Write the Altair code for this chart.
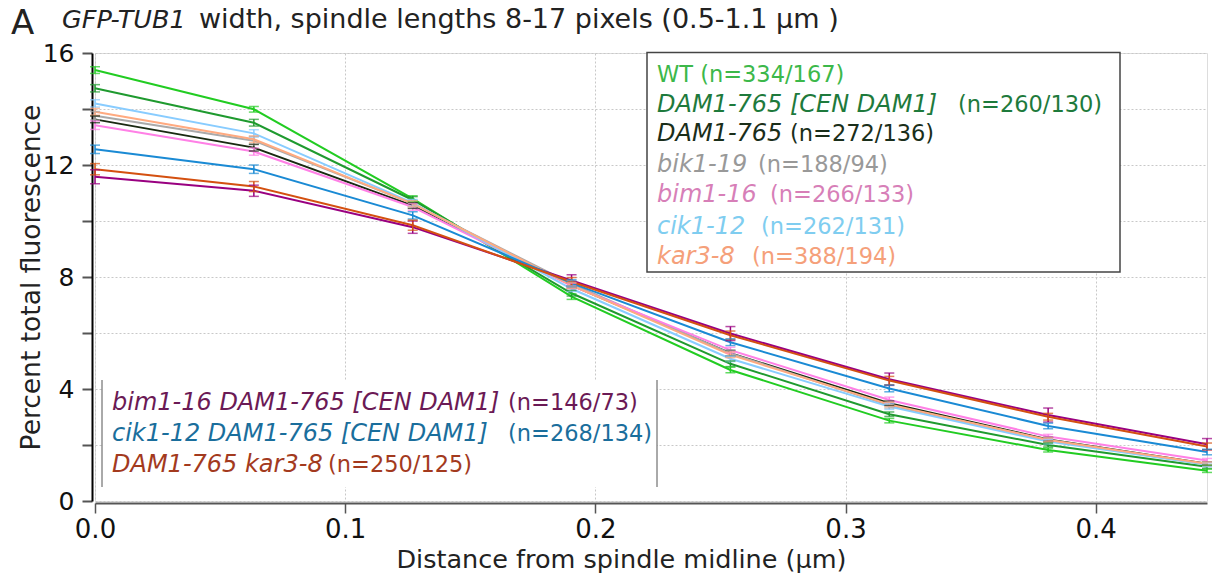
import altair as alt
import pandas as pd

# ---------------- data ----------------
x_um = [0.0, 0.0635, 0.127, 0.1905, 0.254, 0.3175, 0.381, 0.4445]

series_names = [
    "WT",
    "DAM1-765 [CEN DAM1]",
    "DAM1-765",
    "bik1-19",
    "bim1-16",
    "cik1-12",
    "kar3-8",
    "bim1-16 DAM1-765 [CEN DAM1]",
    "cik1-12 DAM1-765 [CEN DAM1]",
    "DAM1-765 kar3-8",
]

wt = [15.39, 13.99, 10.80, 7.30, 4.68, 2.87, 1.82, 1.08]
dam1_cen = [14.74, 13.51, 10.75, 7.42, 4.90, 3.10, 2.00, 1.22]
dam1_765 = [13.63, 12.62, 10.55, 7.70, 5.28, 3.49, 2.20, 1.33]
bik1_19 = [13.76, 12.87, 10.62, 7.75, 5.27, 3.42, 2.18, 1.30]
bim1_16 = [13.42, 12.48, 10.50, 7.68, 5.39, 3.61, 2.30, 1.45]
cik1_12 = [14.20, 13.13, 10.65, 7.58, 5.08, 3.37, 2.12, 1.30]
kar3_8 = [13.90, 12.92, 10.62, 7.70, 5.22, 3.45, 2.18, 1.33]
bim1_dam1_cen = [11.58, 11.08, 9.78, 7.88, 5.98, 4.35, 3.07, 2.03]
cik1_dam1_cen = [12.56, 11.85, 10.20, 7.78, 5.67, 4.02, 2.68, 1.75]
dam1_kar3 = [11.85, 11.23, 9.85, 7.83, 5.92, 4.30, 3.01, 1.95]

wt_err = [0.12, 0.10, 0.10, 0.10, 0.10, 0.08, 0.07, 0.06]
dam1_cen_err = [0.13, 0.12, 0.12, 0.10, 0.10, 0.08, 0.07, 0.06]
dam1_765_err = [0.12, 0.12, 0.10, 0.10, 0.10, 0.08, 0.07, 0.06]
bik1_19_err = [0.15, 0.15, 0.12, 0.12, 0.12, 0.10, 0.08, 0.07]
bim1_16_err = [0.15, 0.13, 0.12, 0.10, 0.10, 0.10, 0.08, 0.07]
cik1_12_err = [0.13, 0.13, 0.12, 0.10, 0.10, 0.10, 0.08, 0.07]
kar3_8_err = [0.12, 0.12, 0.10, 0.10, 0.10, 0.08, 0.07, 0.06]
bim1_dam1_cen_err = [0.25, 0.20, 0.22, 0.20, 0.25, 0.22, 0.25, 0.20]
cik1_dam1_cen_err = [0.15, 0.15, 0.13, 0.12, 0.12, 0.12, 0.10, 0.10]
dam1_kar3_err = [0.20, 0.18, 0.18, 0.15, 0.15, 0.15, 0.12, 0.12]

means = [wt, dam1_cen, dam1_765, bik1_19, bim1_16, cik1_12, kar3_8,
         bim1_dam1_cen, cik1_dam1_cen, dam1_kar3]
errs = [wt_err, dam1_cen_err, dam1_765_err, bik1_19_err, bim1_16_err,
        cik1_12_err, kar3_8_err, bim1_dam1_cen_err, cik1_dam1_cen_err, dam1_kar3_err]

line_colors = ["#22cc22", "#1f9a2f", "#1a2a12", "#aaaaaa", "#ff80e6",
               "#88ccff", "#ffaa80", "#990080", "#1a8ad4", "#d45010"]

# legend text
upper_italic = ["", "DAM1-765 [CEN DAM1]", "DAM1-765", "bik1-19", "bim1-16", "cik1-12", "kar3-8"]
upper_counts = ["WT (n=334/167)", "(n=260/130)", "(n=272/136)", "(n=188/94)",
                "(n=266/133)", "(n=262/131)", "(n=388/194)"]
upper_text_colors = ["#3cb84a", "#1e7a3c", "#1a2e1a", "#999999", "#d77fb8", "#7fcdf0", "#f5a07a"]

lower_italic = ["bim1-16 DAM1-765 [CEN DAM1]", "cik1-12 DAM1-765 [CEN DAM1]", "DAM1-765 kar3-8"]
lower_counts = ["(n=146/73)", "(n=268/134)", "(n=250/125)"]
lower_text_colors = ["#6b1a55", "#1a6e9c", "#a33a1e"]

x_ticks = [0.0, 0.1, 0.2, 0.3, 0.4]
y_ticks = [0, 2, 4, 6, 8, 10, 12, 14, 16]

# ---------------- layout (pixels) ----------------
PL, PT = 95, 53           # plot origin in page
W, H = 1112, 448
FONT = "DejaVu Sans"

upper_it_x = [657] * 7
upper_n_x = [657, 958, 790, 758, 770, 761, 752]
upper_y = [75, 105, 134, 165, 195, 227, 257]
lower_it_x = [112, 112, 112]
lower_n_x = [508, 508, 328]
lower_y = [403, 434, 465]

# ---------------- build tables ----------------
rows = []
for name, m, e in zip(series_names, means, errs):
    for xv, yv, ev in zip(x_um, m, e):
        rows.append({"series": name, "x": xv, "y": yv, "lo": yv - ev, "hi": yv + ev})
df = pd.DataFrame(rows)

color = alt.Color("series:N", scale=alt.Scale(domain=series_names, range=line_colors), legend=None)

xaxis = alt.Axis(values=x_ticks, format=".1f", labelFlush=False, tickSize=10, tickWidth=1.5,
                 tickColor="#555", domainColor="#555", domainWidth=2, offset=2,
                 labelFont=FONT, labelFontSize=26, labelColor="#111", labelPadding=3,
                 title="Distance from spindle midline (μm)", titleFont=FONT,
                 titleFontSize=25.5, titleFontWeight="normal", titleColor="#222",
                 titleX=526, titlePadding=5,
                 grid=True, gridColor="#c8c8c8", gridDash=[2, 2], gridWidth=1)
yaxis = alt.Axis(values=y_ticks, labelExpr="datum.value % 4 == 0 ? datum.label : ''",
                 tickSize=10, tickWidth=2, tickColor="#555", domainColor="#000",
                 domainWidth=2, offset=3, labelFont=FONT, labelFontSize=25,
                 labelColor="#111", labelPadding=8,
                 title="Percent total fluorescence", titleFont=FONT, titleFontSize=26.5,
                 titleFontWeight="normal", titleColor="#222", titlePadding=-3,
                 grid=True, gridColor="#c8c8c8", gridDash=[2, 2], gridWidth=1)

X = alt.X("x:Q", scale=alt.Scale(domain=[0, 0.4445], nice=False, zero=False), axis=xaxis)
Y = alt.Y("y:Q", scale=alt.Scale(domain=[0, 16], nice=False), axis=yaxis)

base = alt.Chart(df)
lines = base.mark_line(strokeWidth=2).encode(x=X, y=Y, color=color, detail="series:N")
bars = base.mark_rule(strokeWidth=1.5).encode(x="x:Q", y="lo:Q", y2="hi:Q", color=color)
cap_lo = base.mark_tick(orient="horizontal", size=10, thickness=1.5).encode(x="x:Q", y="lo:Q", color=color)
cap_hi = base.mark_tick(orient="horizontal", size=10, thickness=1.5).encode(x="x:Q", y="hi:Q", color=color)

one = pd.DataFrame({"a": [0]})

# upper legend box
box = alt.Chart(one).mark_rect(fill="white", stroke="#444", strokeWidth=1.5).encode(
    x=alt.value(647 - PL), x2=alt.value(1120 - PL), y=alt.value(52.5 - PT), y2=alt.value(272 - PT))

# lower legend box: white fill, left/right borders only
lbox = alt.Chart(one).mark_rect(fill="white").encode(
    x=alt.value(102 - PL), x2=alt.value(657 - PL), y=alt.value(380 - PT), y2=alt.value(487 - PT))
lborder_l = alt.Chart(one).mark_rule(color="#555", strokeWidth=1).encode(
    x=alt.value(102 - PL), y=alt.value(380 - PT), y2=alt.value(487 - PT))
lborder_r = alt.Chart(one).mark_rule(color="#555", strokeWidth=1).encode(
    x=alt.value(657 - PL), y=alt.value(380 - PT), y2=alt.value(487 - PT))

leg_rows = []
for it, n, c, xi, xn, yy in zip(upper_italic, upper_counts, upper_text_colors, upper_it_x, upper_n_x, upper_y):
    leg_rows.append({"it": it, "n": n, "col": c, "xi": xi - PL, "xn": xn - PL, "py": yy - PT})
for it, n, c, xi, xn, yy in zip(lower_italic, lower_counts, lower_text_colors, lower_it_x, lower_n_x, lower_y):
    leg_rows.append({"it": it, "n": n, "col": c, "xi": xi - PL, "xn": xn - PL, "py": yy - PT})
leg = pd.DataFrame(leg_rows)

leg_it = alt.Chart(leg).mark_text(align="left", baseline="middle", font=FONT, fontSize=24,
                                  fontStyle="italic").encode(
    x=alt.X("xi:Q", scale=None, axis=None), y=alt.Y("py:Q", scale=None, axis=None),
    text="it:N", color=alt.Color("col:N", scale=None))
leg_n = alt.Chart(leg).mark_text(align="left", baseline="middle", font=FONT, fontSize=22.5).encode(
    x=alt.X("xn:Q", scale=None, axis=None), y=alt.Y("py:Q", scale=None, axis=None),
    text="n:N", color=alt.Color("col:N", scale=None))

# panel letter and subtitle
title_a = alt.Chart(one).mark_text(text="A", align="left", baseline="alphabetic", font=FONT,
                                   fontSize=34, color="#222").encode(
    x=alt.value(11 - PL), y=alt.value(34 - PT))
sub_it = alt.Chart(one).mark_text(text="GFP-TUB1", align="left", baseline="alphabetic", font=FONT,
                                  fontSize=25.5, fontStyle="italic", color="#222").encode(
    x=alt.value(62 - PL), y=alt.value(28 - PT))
sub_n = alt.Chart(one).mark_text(text="width, spindle lengths 8-17 pixels (0.5-1.1 μm )",
                                 align="left", baseline="alphabetic", font=FONT,
                                 fontSize=27, color="#222").encode(
    x=alt.value(199 - PL), y=alt.value(28 - PT))

chart = alt.layer(
    lines, bars, cap_lo, cap_hi, box, lbox, lborder_l, lborder_r, leg_it, leg_n,
    title_a, sub_it, sub_n
).properties(
    width=W, height=H,
    padding={"left": PL, "top": PT, "right": 1212 - PL - W, "bottom": 577 - PT - H},
    autosize=alt.AutoSizeParams(type="none"),
).configure_view(stroke=None).configure(background="white")

chart.save("out.html", embed_options={"renderer": "svg", "actions": False})
